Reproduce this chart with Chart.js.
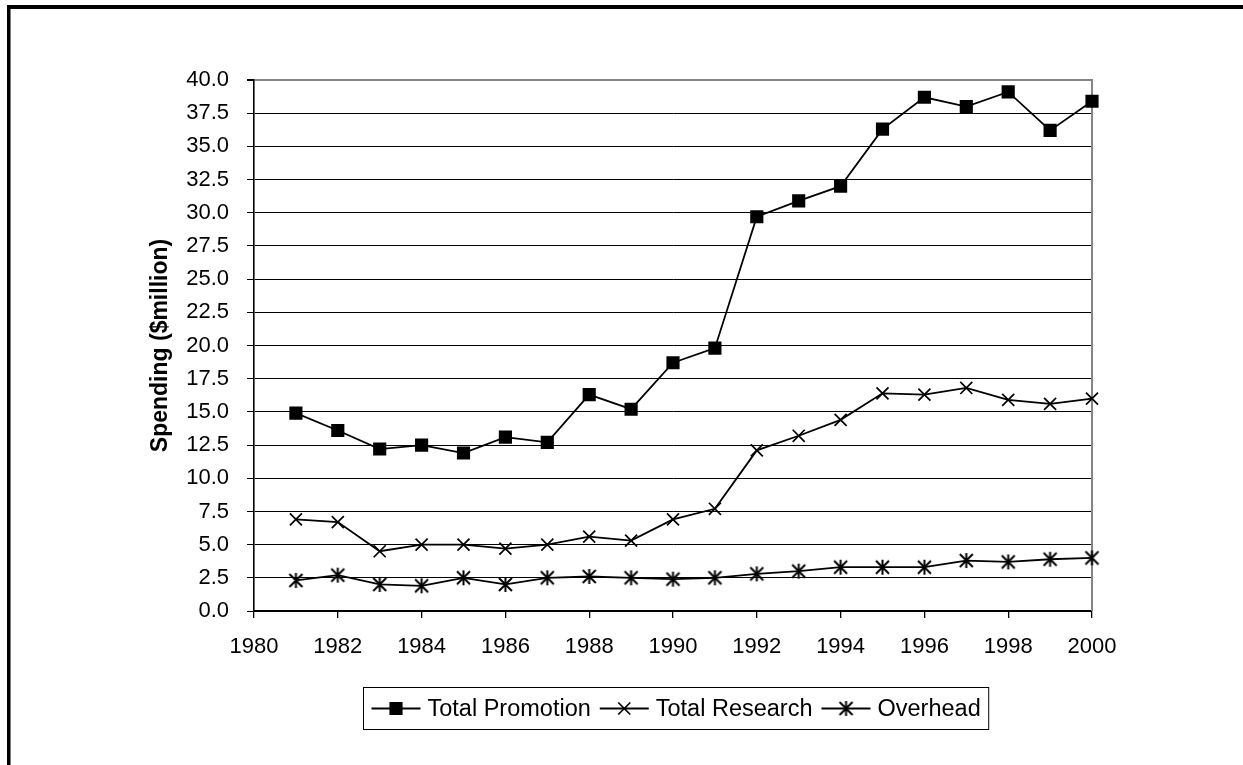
<!DOCTYPE html>
<html>
<head>
<meta charset="utf-8">
<title>Spending</title>
<script src="https://cdn.jsdelivr.net/npm/chart.js@4.4.1/dist/chart.umd.min.js"></script>
<style>
  html, body { margin: 0; padding: 0; background: #fff; }
  #wrap { width: 1243px; height: 765px; position: relative; }
</style>
</head>
<body>
<div id="wrap"><canvas id="c" width="1243" height="765"></canvas></div>
<script>
// Annual spending, $ million
const years = [1981, 1982, 1983, 1984, 1985, 1986, 1987, 1988, 1989, 1990,
               1991, 1992, 1993, 1994, 1995, 1996, 1997, 1998, 1999, 2000];
const totalPromotion = [14.9, 13.6, 12.2, 12.5, 11.9, 13.1, 12.7, 16.3, 15.2, 18.7,
                        19.8, 29.7, 30.9, 32.0, 36.3, 38.7, 38.0, 39.1, 36.2, 38.4];
const totalResearch = [6.9, 6.7, 4.5, 5.0, 5.0, 4.7, 5.0, 5.6, 5.3, 6.9,
                       7.7, 12.1, 13.2, 14.4, 16.4, 16.3, 16.8, 15.9, 15.6, 16.0];
const overhead = [2.3, 2.7, 2.0, 1.9, 2.5, 2.0, 2.5, 2.6, 2.5, 2.4,
                  2.5, 2.8, 3.0, 3.3, 3.3, 3.3, 3.8, 3.7, 3.9, 4.0];
const seriesNames = ['Total Promotion', 'Total Research', 'Overhead'];
const xMin = 1980, xMax = 2000, xStep = 2;
const yMin = 0, yMax = 40, yStep = 2.5;
const yTitle = 'Spending ($million)';

const FONT = '"Liberation Sans", Arial, Helvetica, sans-serif';
const FS = 22;
const LEGEND_FS = 23.5;

// asterisk marker: an X with a vertical stroke
function asteriskMarker(size, lw) {
  const cv = document.createElement('canvas');
  cv.width = size; cv.height = size;
  const g = cv.getContext('2d');
  const c = size / 2, h = size / 2 - 2;
  g.strokeStyle = '#000';
  g.lineWidth = lw;
  g.beginPath();
  g.moveTo(c - h, c - h); g.lineTo(c + h, c + h);
  g.moveTo(c + h, c - h); g.lineTo(c - h, c + h);
  g.moveTo(c, c - h - 1); g.lineTo(c, c + h + 1);
  g.stroke();
  return cv;
}
const starImg = asteriskMarker(17, 2);

function pts(vals) { return years.map((y, i) => ({ x: y, y: vals[i] })); }

const common = {
  borderColor: '#000',
  backgroundColor: '#000',
  borderWidth: 1.8,
  tension: 0,
  pointBorderColor: '#000',
  pointBackgroundColor: '#000',
  pointBorderWidth: 1.7,
  pointHoverRadius: 0,
  clip: false
};

const datasets = [
  Object.assign({}, common, { label: seriesNames[0], data: pts(totalPromotion), pointStyle: 'rect', pointRadius: 8.1 }),
  Object.assign({}, common, { label: seriesNames[1], data: pts(totalResearch), pointStyle: 'crossRot', pointRadius: 8.5 }),
  Object.assign({}, common, { label: seriesNames[2], data: pts(overhead), pointStyle: starImg, pointRadius: 8 })
];

// page frame, plot border and boxed legend
const decor = {
  id: 'decor',
  beforeDraw(chart) {
    const ctx = chart.ctx;
    ctx.save();
    ctx.fillStyle = '#fff';
    ctx.fillRect(0, 0, chart.width, chart.height);
    ctx.fillStyle = '#000';
    ctx.fillRect(7, 5, chart.width - 7, 4);
    ctx.fillRect(7, 5, 3.5, chart.height - 5);
    ctx.restore();
  },
  beforeDatasetsDraw(chart) {
    const ctx = chart.ctx, a = chart.chartArea;
    ctx.save();
    ctx.strokeStyle = '#858585';
    ctx.lineWidth = 2;
    ctx.beginPath();
    ctx.moveTo(a.right, a.top - 1);
    ctx.lineTo(a.right, a.bottom);
    ctx.stroke();
    ctx.restore();
  },
  afterDraw(chart) {
    const ctx = chart.ctx, a = chart.chartArea;
    ctx.save();
    ctx.font = LEGEND_FS + 'px ' + FONT;
    const padL = 8, padR = 8, lineLen = 49, gapText = 7, gapItem = 9;
    const items = chart.data.datasets.map(ds => ({ ds, w: ctx.measureText(ds.label).width }));
    let total = padL + padR;
    items.forEach((it, i) => { total += lineLen + gapText + it.w + (i < items.length - 1 ? gapItem : 0); });
    const boxH = 42;
    const cx = (a.left + a.right) / 2 + 3;
    const bx = Math.round(cx - total / 2) + 0.5;
    const by = 687.5;
    ctx.strokeStyle = '#000';
    ctx.lineWidth = 1;
    ctx.strokeRect(bx, by, total, boxH);
    const cy = by + boxH / 2;
    let x = bx + padL;
    items.forEach((it) => {
      const ds = it.ds;
      ctx.strokeStyle = '#000';
      ctx.lineWidth = ds.borderWidth;
      ctx.beginPath();
      ctx.moveTo(x, cy);
      ctx.lineTo(x + lineLen, cy);
      ctx.stroke();
      ctx.fillStyle = '#000';
      ctx.lineWidth = ds.pointBorderWidth;
      Chart.helpers.drawPoint(ctx, { pointStyle: ds.pointStyle, radius: ds.pointRadius, borderWidth: ds.pointBorderWidth, rotation: 0 }, x + lineLen / 2, cy);
      ctx.fillStyle = '#000';
      ctx.textAlign = 'left';
      ctx.textBaseline = 'middle';
      ctx.fillText(ds.label, x + lineLen + gapText, cy + 1);
      x += lineLen + gapText + it.w + gapItem;
    });
    ctx.restore();
  }
};

new Chart(document.getElementById('c'), {
  type: 'line',
  data: { datasets },
  plugins: [decor],
  options: {
    responsive: false,
    devicePixelRatio: 1,
    animation: false,
    events: [],
    layout: { padding: { left: 140, top: 80, right: 151, bottom: 94 } },
    plugins: { legend: { display: false }, tooltip: { enabled: false } },
    scales: {
      x: {
        type: 'linear',
        min: xMin, max: xMax,
        afterFit(s) { s.height = 60; },
        afterBuildTicks(s) {
          const t = [];
          for (let v = xMin; v <= xMax; v += xStep) t.push({ value: v });
          s.ticks = t;
        },
        ticks: {
          color: '#000',
          font: { family: FONT, size: FS },
          padding: 16,
          maxRotation: 0,
          autoSkip: false,
          callback: v => String(v)
        },
        grid: { drawOnChartArea: false, drawTicks: true, tickLength: 7, tickColor: '#000', lineWidth: 1.3 },
        border: { color: '#000', width: 1.6 }
      },
      y: {
        type: 'linear',
        min: yMin, max: yMax,
        afterFit(s) { s.width = 114; },
        afterBuildTicks(s) {
          const t = [];
          for (let v = yMin; v <= yMax + 1e-9; v += yStep) t.push({ value: v });
          s.ticks = t;
        },
        ticks: {
          color: '#000',
          font: { family: FONT, size: FS },
          padding: 18,
          autoSkip: false,
          callback: v => Number(v).toFixed(1)
        },
        grid: {
          drawTicks: true,
          tickLength: 7,
          color: c => (c.tick && c.tick.value === yMax ? '#858585' : '#000'),
          lineWidth: c => (c.tick && c.tick.value === yMax ? 2 : 1),
          tickColor: '#000'
        },
        border: { color: '#000', width: 1.6 },
        title: {
          display: true,
          text: yTitle,
          color: '#000',
          font: { family: FONT, size: 23, weight: 'bold' },
          padding: { top: 7, bottom: 0 }
        }
      }
    }
  }
});
</script>
</body>
</html>
